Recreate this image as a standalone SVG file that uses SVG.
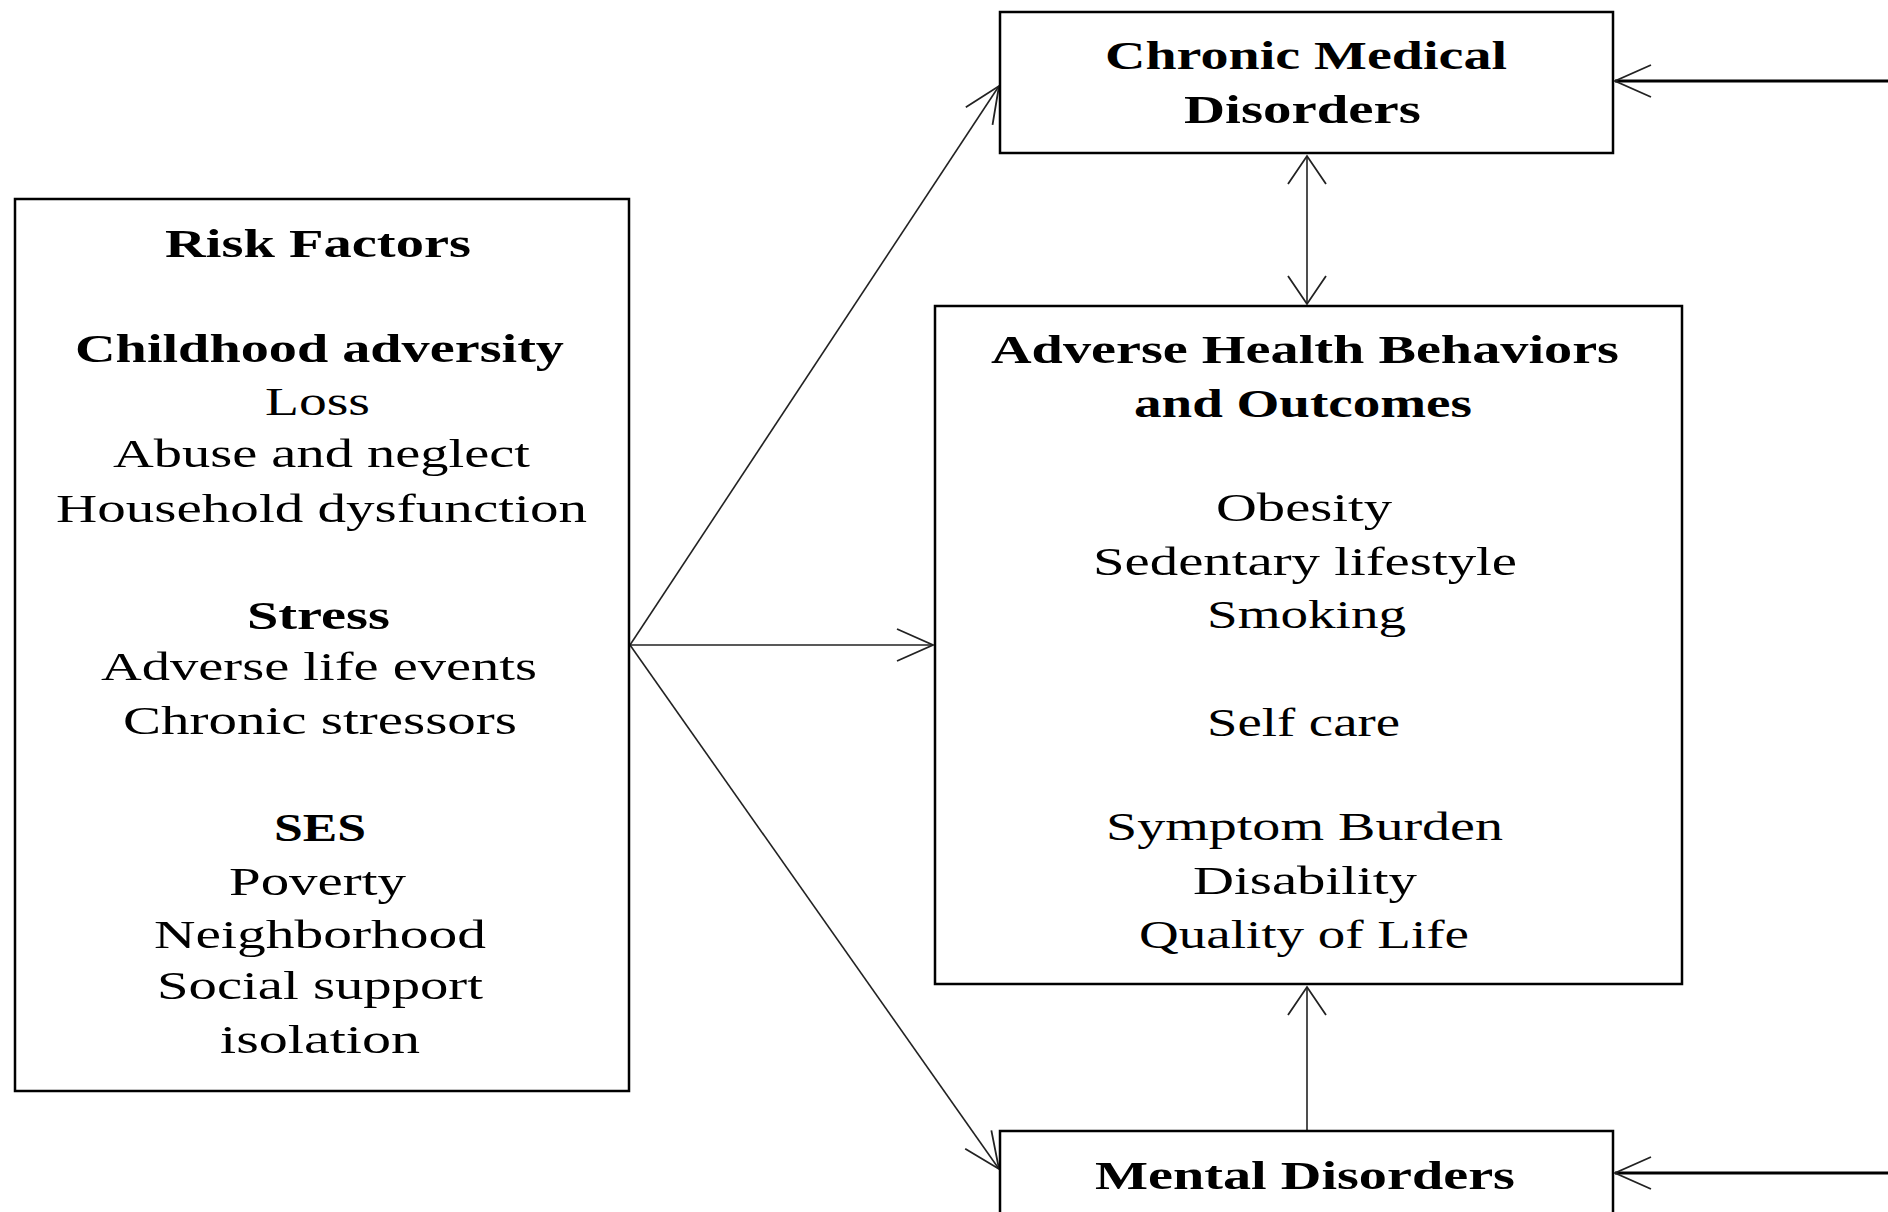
<svg xmlns="http://www.w3.org/2000/svg" width="1888" height="1212" viewBox="0 0 1888 1212">
<style>
.box{fill:#fff;stroke:#000;stroke-width:2.5}
.t{font-family:"Liberation Serif","Times New Roman",serif;font-size:41px;fill:#000}
.b{font-weight:bold}
.c{fill:none;stroke:#222;stroke-width:1.6}
.ct{fill:none;stroke:#000;stroke-width:2.8}
</style>
<defs>
<marker id="ah" viewBox="0 0 40 36" refX="37" refY="17" markerWidth="40" markerHeight="36" markerUnits="userSpaceOnUse" orient="auto-start-reverse">
<path d="M1,1 L37,17 L1,33" fill="none" stroke="#222" stroke-width="1.8"/>
</marker>
<marker id="av" viewBox="0 0 32 42" refX="29" refY="20" markerWidth="32" markerHeight="42" markerUnits="userSpaceOnUse" orient="auto-start-reverse">
<path d="M1,1 L29,20 L1,39" fill="none" stroke="#222" stroke-width="1.8"/>
</marker>
</defs>
<rect width="1888" height="1212" fill="#fff"/>
<g id="connectors">
<line class="c" x1="630" y1="645" x2="999" y2="86" marker-end="url(#ah)"/>
<line class="c" x1="630" y1="645" x2="933" y2="645" marker-end="url(#ah)"/>
<line class="c" x1="630" y1="645" x2="999" y2="1169" marker-end="url(#ah)"/>
<line class="c" x1="1307" y1="156" x2="1307" y2="304" marker-start="url(#av)" marker-end="url(#av)"/>
<line class="c" x1="1307" y1="1131" x2="1307" y2="987" marker-end="url(#av)"/>
<line class="ct" x1="1888" y1="81" x2="1615" y2="81" marker-end="url(#ah)"/>
<line class="ct" x1="1888" y1="1173" x2="1615" y2="1173" marker-end="url(#ah)"/>
</g>
<g id="risk-factors">
<rect class="box" x="15" y="199" width="614" height="892"/>
<text class="t b" x="165" y="257" textLength="306" lengthAdjust="spacingAndGlyphs">Risk Factors</text>
<text class="t b" x="75" y="362" textLength="489" lengthAdjust="spacingAndGlyphs">Childhood adversity</text>
<text class="t" x="265" y="415" textLength="105" lengthAdjust="spacingAndGlyphs">Loss</text>
<text class="t" x="113" y="467" textLength="417" lengthAdjust="spacingAndGlyphs">Abuse and neglect</text>
<text class="t" x="56" y="522" textLength="531" lengthAdjust="spacingAndGlyphs">Household dysfunction</text>
<text class="t b" x="247" y="629" textLength="143" lengthAdjust="spacingAndGlyphs">Stress</text>
<text class="t" x="101" y="680" textLength="436" lengthAdjust="spacingAndGlyphs">Adverse life events</text>
<text class="t" x="123" y="734" textLength="394" lengthAdjust="spacingAndGlyphs">Chronic stressors</text>
<text class="t b" x="274" y="841" textLength="92" lengthAdjust="spacingAndGlyphs">SES</text>
<text class="t" x="229" y="895" textLength="177" lengthAdjust="spacingAndGlyphs">Poverty</text>
<text class="t" x="154" y="948" textLength="332" lengthAdjust="spacingAndGlyphs">Neighborhood</text>
<text class="t" x="157" y="999" textLength="326" lengthAdjust="spacingAndGlyphs">Social support</text>
<text class="t" x="220" y="1053" textLength="200" lengthAdjust="spacingAndGlyphs">isolation</text>
</g>
<g id="chronic-medical">
<rect class="box" x="1000" y="12" width="613" height="141"/>
<text class="t b" x="1105" y="69" textLength="402" lengthAdjust="spacingAndGlyphs">Chronic Medical</text>
<text class="t b" x="1184" y="123" textLength="237" lengthAdjust="spacingAndGlyphs">Disorders</text>
</g>
<g id="adverse-health">
<rect class="box" x="935" y="306" width="747" height="678"/>
<text class="t b" x="991" y="363" textLength="628" lengthAdjust="spacingAndGlyphs">Adverse Health Behaviors</text>
<text class="t b" x="1134" y="417" textLength="338" lengthAdjust="spacingAndGlyphs">and Outcomes</text>
<text class="t" x="1216" y="521" textLength="176" lengthAdjust="spacingAndGlyphs">Obesity</text>
<text class="t" x="1093" y="575" textLength="424" lengthAdjust="spacingAndGlyphs">Sedentary lifestyle</text>
<text class="t" x="1207" y="628" textLength="199" lengthAdjust="spacingAndGlyphs">Smoking</text>
<text class="t" x="1207" y="736" textLength="193" lengthAdjust="spacingAndGlyphs">Self care</text>
<text class="t" x="1106" y="840" textLength="397" lengthAdjust="spacingAndGlyphs">Symptom Burden</text>
<text class="t" x="1193" y="894" textLength="224" lengthAdjust="spacingAndGlyphs">Disability</text>
<text class="t" x="1139" y="948" textLength="330" lengthAdjust="spacingAndGlyphs">Quality of Life</text>
</g>
<g id="mental-disorders">
<rect class="box" x="1000" y="1131" width="613" height="110"/>
<text class="t b" x="1095" y="1189" textLength="420" lengthAdjust="spacingAndGlyphs">Mental Disorders</text>
</g>
</svg>
